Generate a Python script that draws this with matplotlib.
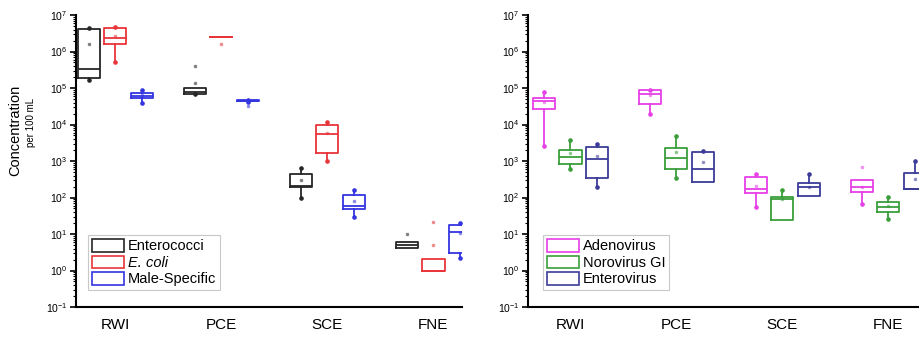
import numpy as np
import matplotlib
matplotlib.use("Agg")
import matplotlib.pyplot as plt
from matplotlib.patches import Patch
from matplotlib.ticker import FixedLocator, NullFormatter

plt.rcParams['font.family'] = ['Liberation Sans', 'DejaVu Sans']

sites = ['RWI', 'PCE', 'SCE', 'FNE']

# left panel: bacteria / coliphage (per 100 mL)
bac_names = ['Enterococci', 'E. coli', 'Male-Specific']
bac_colors = ['#262626', '#e8353a', '#3434e0']
bac_q1 = [[1.9e5, 6.9e4, 200, 4.2], [1.6e6, 2.45e6, 1700, 1.0], [5.2e4, 4.3e4, 48, 3.1]]
bac_med = [[3.3e5, 7.6e4, 210, 5.1], [2.3e6, 2.45e6, 5600, 1.0], [6.2e4, 4.5e4, 60, 11.5]]
bac_q3 = [[4.1e6, 9.8e4, 430, 6.2], [4.5e6, 2.45e6, 1.0e4, 2.1], [7.1e4, 4.6e4, 117, 17.8]]
bac_lo = [[1.7e5, 6.7e4, 100, 4.2], [5.0e5, 2.45e6, 1000, 1.0], [3.9e4, 4.2e4, 30, 2.2]]
bac_hi = [[4.5e6, 9.8e4, 630, 6.2], [4.8e6, 2.45e6, 1.15e4, 2.1], [8.9e4, 4.7e4, 158, 20.4]]
bac_mean = [[1.6e6, 1.4e5, 300, 9.8], [2.7e6, 1.6e6, 5800, 4.9], [6.3e4, 3.2e4, 79, 10.7]]
bac_out = [[[], [4.0e5], [], []], [[], [], [], [22]], [[], [], [], []]]

# right panel: viruses
vir_names = ['Adenovirus', 'Norovirus GI', 'Enterovirus']
vir_colors = ['#e640e6', '#3a9e3a', '#3c3c98']
vir_q1 = [[2.6e4, 3.6e4, 132, 138], [850, 600, 24, 40], [340, 270, 112, 166]]
vir_med = [[4.4e4, 6.9e4, 166, 190], [1290, 1180, 89, 56], [1170, 600, 200, 166]]
vir_q3 = [[5.4e4, 8.7e4, 355, 300], [2040, 2240, 102, 76], [2450, 1780, 257, 480]]
vir_lo = [[2.5e3, 2.0e4, 56, 66], [620, 350, 24, 25], [200, 270, 112, 166]]
vir_hi = [[7.9e4, 8.9e4, 430, 300], [3800, 4800, 162, 105], [3000, 1900, 437, 1020]]
vir_mean = [[4.1e4, 6.6e4, 210, 200], [1700, 1780, 93, 58], [1380, 950, 200, 316]]
vir_out = [[[], [], [], [690]], [[], [], [], []], [[], [], [], []]]

decades = np.arange(-1, 8)


def draw_panel(ax, names, colors, q1, med, q3, lo, hi, mean, out, xlim, leg_x):
    x = np.arange(1, len(sites) + 1)
    offsets = [-0.25, 0.0, 0.25]
    for k, c in enumerate(colors):
        pos = x + offsets[k]
        stats = []
        for i in range(len(sites)):
            stats.append(dict(q1=q1[k][i], med=med[k][i], q3=q3[k][i],
                              whislo=lo[k][i], whishi=hi[k][i],
                              mean=mean[k][i], fliers=out[k][i]))
        ax.bxp(stats, positions=pos, widths=0.21, showcaps=False,
               showmeans=True, showfliers=True, manage_ticks=False,
               boxprops=dict(color=c, lw=1.3),
               medianprops=dict(color=c, lw=1.3),
               whiskerprops=dict(color=c, lw=1.3),
               meanprops=dict(marker='s', ms=2, mfc=c, mec=c, alpha=0.45),
               flierprops=dict(marker='s', ms=2, mfc=c, mec=c, alpha=0.45))
        # whisker end dots
        for i in range(len(sites)):
            if lo[k][i] < q1[k][i]:
                ax.plot(pos[i], lo[k][i], 'o', ms=2.3, color=c)
            if hi[k][i] > q3[k][i]:
                ax.plot(pos[i], hi[k][i], 'o', ms=2.3, color=c)

    ax.set_yscale('log')
    ax.set_ylim(0.1, 1e7)
    ax.set_xlim(*xlim)
    ax.set_xticks(x)
    ax.set_xticklabels(sites, fontsize=11)
    ax.yaxis.set_major_locator(FixedLocator(10.0 ** decades))
    minors = [m * 10.0 ** d for d in decades[:-1] for m in range(2, 10)]
    ax.yaxis.set_minor_locator(FixedLocator(minors))
    ax.yaxis.set_minor_formatter(NullFormatter())
    ax.set_yticklabels([r'$\mathdefault{10^{%d}}$' % d for d in decades])
    ax.tick_params(axis='y', which='major', direction='out', length=4, width=1.2, labelsize=7.5, pad=2)
    ax.tick_params(axis='y', which='minor', direction='out', length=2, width=0.8)
    ax.tick_params(axis='x', which='both', length=0, pad=8)
    for s in ['top', 'right']:
        ax.spines[s].set_visible(False)
    for s in ['left', 'bottom']:
        ax.spines[s].set_linewidth(1.5)

    handles = [Patch(facecolor='none', edgecolor=c, lw=1.2) for c in colors]
    leg = ax.legend(handles, names, loc='lower left', bbox_to_anchor=(leg_x, 0.058),
                    borderaxespad=0, fontsize=10.5, frameon=True, fancybox=False,
                    edgecolor='#bbbbbb', handlelength=2.2, handleheight=0.95,
                    handletextpad=0.3, labelspacing=0.15, borderpad=0.25)
    leg.get_frame().set_linewidth(0.8)
    return leg


fig = plt.figure(figsize=(9.2, 3.37), dpi=100)
ax1 = fig.add_axes([76 / 920, 30 / 337, 386 / 920, 292 / 337])
ax2 = fig.add_axes([528 / 920, 30 / 337, 392 / 920, 292 / 337])

leg1 = draw_panel(ax1, bac_names, bac_colors, bac_q1, bac_med, bac_q3, bac_lo, bac_hi,
                  bac_mean, bac_out, (0.63, 4.27), 0.031)
leg1.get_texts()[1].set_fontstyle('italic')
draw_panel(ax2, vir_names, vir_colors, vir_q1, vir_med, vir_q3, vir_lo, vir_hi,
           vir_mean, vir_out, (0.60, 4.30), 0.038)

fig.text(15 / 920, 1 - 130 / 337, 'Concentration', rotation=90, fontsize=10.5,
         ha='center', va='center')
fig.text(31 / 920, 1 - 122 / 337, 'per 100 mL', rotation=90, fontsize=7,
         ha='center', va='center')

plt.savefig('out.png', dpi=100)
